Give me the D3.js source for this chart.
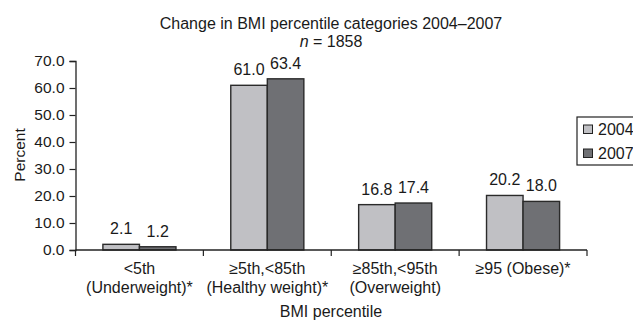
<!DOCTYPE html>
<html><head><meta charset="utf-8">
<script src="https://cdn.jsdelivr.net/npm/d3@7"></script>
<style>body{margin:0;background:#fff}svg{display:block}text{font-family:"Liberation Sans",Arial,sans-serif;fill:#1a1a1a}</style>
</head><body><svg id="c" width="633" height="321"></svg>
<script>
const categories = [["<5th","(Underweight)*"],["≥5th,<85th","(Healthy weight)*"],["≥85th,<95th","(Overweight)"],["≥95 (Obese)*"]];
const seriesNames = ["2004","2007"];
const values2004 = [2.1, 61.0, 16.8, 20.2];
const values2007 = [1.2, 63.4, 17.4, 18.0];
const yTicks = [0,10,20,30,40,50,60,70];
const colors = ["#c0c0c4","#6f7074"];

const svg = d3.select("#c");
const fs = 16;
const x = d3.scaleBand().domain(d3.range(categories.length)).range([75.5,587]).paddingInner(0).paddingOuter(0);
const y = d3.scaleLinear().domain([0,70]).range([250,61]);
const sub = d3.scaleBand().domain([0,1]).range([0,x.bandwidth()]).paddingOuter(0.75).paddingInner(0);

// y axis
const ya = svg.append("g").attr("transform","translate(75.5,0)")
  .call(d3.axisLeft(y).tickValues(yTicks).tickFormat(d3.format(".1f")).tickSize(6).tickPadding(5));
ya.selectAll("text").style("font-size","15.5px").style("font-family",null);
ya.select(".domain").attr("stroke","#222").attr("stroke-width",1.3);
ya.selectAll(".tick line").attr("stroke","#222").attr("stroke-width",1.2);

// bars
const series = [values2004, values2007];
series.forEach((vals,si)=>{
  svg.append("g").selectAll("rect").data(vals).join("rect")
    .attr("x",(d,i)=>x(i)+sub(si))
    .attr("y",d=>y(d))
    .attr("width",sub.bandwidth())
    .attr("height",d=>y(0)-y(d))
    .attr("fill",colors[si]).attr("stroke","#2a2a2a").attr("stroke-width",1.4);
  svg.append("g").selectAll("text").data(vals).join("text")
    .attr("x",(d,i)=>x(i)+sub(si)+sub.bandwidth()/2)
    .attr("y",d=>y(d)-10)
    .attr("text-anchor","middle").style("font-size",fs+"px")
    .text(d=>d.toFixed(1));
});

// x axis
const xa = svg.append("g").attr("transform","translate(0,250)");
xa.append("line").attr("x1",75.5).attr("x2",587).attr("stroke","#222").attr("stroke-width",1.5);
const edges = d3.range(categories.length+1).map(i=> i<categories.length ? x(i) : x(categories.length-1)+x.bandwidth());
xa.selectAll("line.t").data(edges).join("line").attr("class","t")
  .attr("x1",d=>d).attr("x2",d=>d).attr("y1",0).attr("y2",6).attr("stroke","#222").attr("stroke-width",1.2);
categories.forEach((lines,i)=>{
  const t = svg.append("text").attr("text-anchor","middle").style("font-size",fs+"px")
    .attr("x",x(i)+x.bandwidth()/2).attr("y",274);
  lines.forEach((l,j)=>t.append("tspan").attr("x",x(i)+x.bandwidth()/2).attr("dy",j?18.5:0).text(l));
});

// axis titles
svg.append("text").attr("x",331).attr("y",317).attr("text-anchor","middle").style("font-size",fs+"px").text("BMI percentile");
svg.append("text").attr("transform","translate(25,155) rotate(-90)").attr("text-anchor","middle").style("font-size","15.5px").text("Percent");

// title
svg.append("text").attr("x",331).attr("y",29).attr("text-anchor","middle").style("font-size",fs+"px").text("Change in BMI percentile categories 2004–2007");
const sub2 = svg.append("text").attr("x",331).attr("y",47).attr("text-anchor","middle").style("font-size",fs+"px");
sub2.append("tspan").style("font-style","italic").text("n");
sub2.append("tspan").text(" = 1858");

// legend
const lg = svg.append("g");
lg.append("rect").attr("x",577).attr("y",117).attr("width",70).attr("height",48).attr("fill","#fff").attr("stroke","#222").attr("stroke-width",1.2);
seriesNames.forEach((n,i)=>{
  lg.append("rect").attr("x",583.5).attr("y",125+i*24).attr("width",9).attr("height",8.5).attr("fill",colors[i]).attr("stroke","#222");
  lg.append("text").attr("x",598).attr("y",135+i*24).style("font-size",fs+"px").text(n);
});
</script></body></html>
